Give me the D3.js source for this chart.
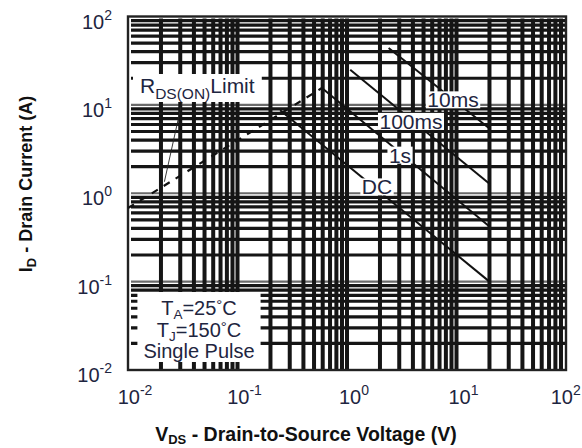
<!DOCTYPE html>
<html><head><meta charset="utf-8">
<script src="https://cdn.jsdelivr.net/npm/d3@7"></script>
<style>
body{margin:0;background:#fff}
svg text{font-family:"Liberation Sans",Arial,Helvetica,sans-serif}
</style>
</head><body>
<svg id="chart" width="582" height="448"></svg>
<script>
// ---- data ----
const xDomain = [0.01, 100];
const yDomain = [0.01, 100];
const decadeTicks = [0.01, 0.1, 1, 10, 100];
const tickExponents = ["-2", "-1", "0", "1", "2"];

const rdsLimit   = [[0.01, 0.68], [0.59, 15.5]];
const pulse10ms  = [[2.4, 44], [20, 5.4]];
const pulse100ms = [[1.07, 25], [20, 1.28]];
const pulse1s    = [[0.59, 15.5], [20, 0.42]];
const pulseDC    = [[0.245, 8.7], [20, 0.10]];

const curveLabels  = ["10ms", "100ms", "1s", "DC"];
const curveLabelAt = [[9.3, 11.4], [3.84, 6.5], [3.05, 2.7], [1.88, 1.18]];

const condLines = [["T", "A", "=25", "°C"], ["T", "J", "=150", "°C"], ["Single Pulse", "", "", ""]];

// ---- layout ----
const W = 582;
const svg = d3.select("#chart");
const L = 128, R = 566, T = 16.5, B = 370;
const x = d3.scaleLog().domain(xDomain).range([L, R]);
const y = d3.scaleLog().domain(yDomain).range([B, T]);
const textCol = "#1e2540";

// grid (log minor ticks drawn heavy, as in the reference)
const gx = x.ticks().filter(v => v > xDomain[0] && v < xDomain[1]);
const gy = y.ticks().filter(v => v > yDomain[0] && v < yDomain[1]);
const grid = svg.append("g");
grid.selectAll("line.h").data(gy).join("line")
  .attr("x1", L + 3).attr("x2", R - 1)
  .attr("y1", d => y(d)).attr("y2", d => y(d))
  .attr("stroke", d => decadeTicks.includes(d) ? "#6a6a6a" : "#151515")
  .attr("stroke-width", d => decadeTicks.includes(d) ? 2.2 : 3.2);
grid.selectAll("line.v").data(gx).join("line")
  .attr("y1", T + 2).attr("y2", B)
  .attr("x1", d => x(d)).attr("x2", d => x(d))
  .attr("stroke", "#151515").attr("stroke-width", 4);

// frame
svg.append("rect").attr("x", L).attr("y", T).attr("width", R - L).attr("height", B - T)
  .attr("fill", "none").attr("stroke", "#222").attr("stroke-width", 2.4);

// curves
const line = d3.line().x(d => x(d[0])).y(d => y(d[1]));
const curves = svg.append("g");
curves.append("path").attr("d", line(rdsLimit)).attr("fill", "none")
  .attr("stroke", "#111").attr("stroke-width", 2.2).attr("stroke-dasharray", "7,7");
[pulse10ms, pulse100ms, pulse1s, pulseDC].forEach(c => {
  curves.append("path").attr("d", line(c)).attr("fill", "none")
    .attr("stroke", "#111").attr("stroke-width", 2);
});

// helper: white box behind a text group
function boxed(g, px, pt, pb) {
  const bb = g.node().getBBox();
  g.insert("rect", ":first-child")
    .attr("x", bb.x - px).attr("y", bb.y - pt)
    .attr("width", bb.width + 2 * px).attr("height", bb.height + pt + pb)
    .attr("fill", "#fff");
}

// curve labels
curveLabels.forEach((t, i) => {
  const g = svg.append("g");
  g.append("text").attr("x", x(curveLabelAt[i][0])).attr("y", y(curveLabelAt[i][1]) + 7.5)
    .attr("text-anchor", "middle")
    .attr("font-size", 21).attr("fill", textCol).text(t);
  boxed(g, 1.5, -3, -3);
});

// RDS(on) limit label + leader
svg.append("line").attr("x1", 182).attr("y1", 102).attr("x2", x(0.0215)).attr("y2", y(1.35))
  .attr("stroke", "#222").attr("stroke-width", 0.9);
const rg = svg.append("g");
const rt = rg.append("text").attr("x", 140).attr("y", 93).attr("font-size", 21).attr("fill", textCol);
rt.append("tspan").text("R");
rt.append("tspan").attr("font-size", 15.5).attr("dy", 6).text("DS(ON)");
rt.append("tspan").attr("dy", -6).text("Limit");
boxed(rg, 7, 0, 0);

// conditions box
const cg = svg.append("g");
condLines.forEach((ln, i) => {
  const t = cg.append("text").attr("x", 199).attr("y", 315 + i * 21.5)
    .attr("text-anchor", "middle").attr("font-size", 20).attr("fill", textCol);
  t.append("tspan").text(ln[0]);
  if (ln[1]) {
    t.append("tspan").attr("font-size", 13.5).attr("dy", 4).text(ln[1]);
    t.append("tspan").attr("dy", -4).text(ln[2]);
    t.append("tspan").attr("font-size", 15).attr("dy", -5).text("°");
    t.append("tspan").attr("dy", 5).text("C");
  }
});
boxed(cg, 6, 4, 0);

// tick labels
decadeTicks.forEach((v, i) => {
  const t = svg.append("text").attr("x", x(v) + 7).attr("y", 404)
    .attr("text-anchor", "middle").attr("font-size", 20).attr("fill", textCol);
  t.append("tspan").text("10");
  t.append("tspan").attr("font-size", 14).attr("dy", -9).text(tickExponents[i]);
  const bb = t.node().getBBox();
  if (bb.x + bb.width > W - 1) t.attr("x", x(v) + 7 - (bb.x + bb.width - (W - 1)));
  const u = svg.append("text").attr("x", 112).attr("y", y(v) + 12)
    .attr("text-anchor", "end").attr("font-size", 20).attr("fill", textCol);
  u.append("tspan").text("10");
  u.append("tspan").attr("font-size", 14).attr("dy", -9).text(tickExponents[i]);
});

// axis titles
const xt = svg.append("text").attr("x", 306).attr("y", 441).attr("text-anchor", "middle")
  .attr("font-size", 19.5).attr("font-weight", "bold").attr("fill", "#111");
xt.append("tspan").text("V");
xt.append("tspan").attr("font-size", 13).attr("dy", 3).text("DS");
xt.append("tspan").attr("dy", -3).text(" - Drain-to-Source Voltage (V)");

const yt = svg.append("text").attr("transform", "translate(32,184) rotate(-90)")
  .attr("text-anchor", "middle").attr("font-size", 18).attr("font-weight", "bold").attr("fill", "#111");
yt.append("tspan").text("I");
yt.append("tspan").attr("font-size", 13).attr("dy", 4).text("D");
yt.append("tspan").attr("dy", -4).text(" - Drain Current (A)");
</script>
</body></html>
